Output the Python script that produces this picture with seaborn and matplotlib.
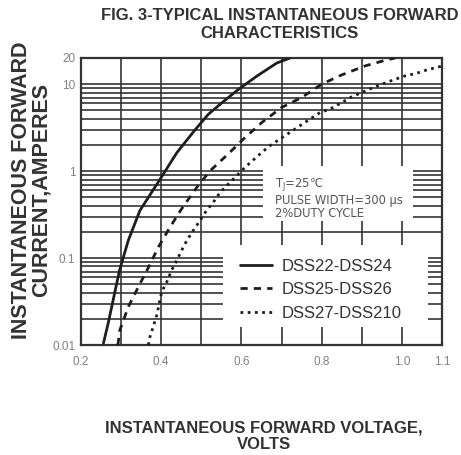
import numpy as np
import matplotlib
matplotlib.use("Agg")
import matplotlib.pyplot as plt
import seaborn as sns
from matplotlib.patches import Rectangle
from matplotlib.ticker import FixedLocator, LogLocator, NullFormatter

# forward voltage (V) vs forward current (A)
v_dss22 = [0.256, 0.268, 0.296, 0.318, 0.347, 0.397, 0.439, 0.484, 0.517, 0.551, 0.590,
           0.638, 0.688, 0.721]
i_dss22 = [0.0105, 0.018, 0.072, 0.16, 0.353, 0.805, 1.63, 2.97, 4.48, 6.1, 8.53,
           12.35, 17.5, 20.0]

v_dss25 = [0.292, 0.297, 0.318, 0.343, 0.368, 0.393, 0.422, 0.451, 0.492, 0.522, 0.567,
           0.605, 0.651, 0.700, 0.750, 0.800, 0.850, 0.908, 0.958, 0.983]
i_dss25 = [0.01, 0.0149, 0.0275, 0.0466, 0.0778, 0.134, 0.227, 0.369, 0.683, 1.01, 1.575,
           2.34, 3.63, 5.39, 7.02, 10.0, 12.78, 16.2, 18.8, 20.0]

v_dss27 = [0.368, 0.372, 0.380, 0.389, 0.401, 0.414, 0.426, 0.439, 0.451, 0.464, 0.480,
           0.497, 0.513, 0.530, 0.547, 0.609, 0.651, 0.671, 0.696, 0.721, 0.746, 0.771,
           0.796, 0.821, 0.850, 0.875, 0.925, 0.950, 0.979, 1.008, 1.037, 1.062, 1.091, 1.100]
i_dss27 = [0.01, 0.01245, 0.0162, 0.0221, 0.0408, 0.0532, 0.0724, 0.0943, 0.1227, 0.160, 0.208,
           0.271, 0.353, 0.439, 0.572, 1.106, 1.644, 1.96, 2.34, 2.79, 3.33, 3.97,
           4.72, 5.17, 6.15, 7.15, 9.0, 10.0, 11.2, 12.45, 13.36, 14.58, 15.78, 16.1]

labels = ["DSS22-DSS24", "DSS25-DSS26", "DSS27-DSS210"]
note = "T$_\\mathregular{J}$=25℃\nPULSE WIDTH=300 μs\n2%DUTY CYCLE"

x_ticks = [0.2, 0.4, 0.6, 0.8, 1.0, 1.1]
x_tick_labels = ["0.2", "0.4", "0.6", "0.8", "1.0", "1.1"]
x_minor = [0.3, 0.5, 0.7, 0.9]
y_ticks = [0.01, 0.1, 1, 10, 20]
y_tick_labels = ["0.01", "0.1", "1", "10", "20"]

sns.set_style("white")
plt.rcParams['font.family'] = ['Liberation Sans', 'DejaVu Sans']

fig = plt.figure(figsize=(4.61, 4.55), dpi=100)
ax = fig.add_axes([81 / 461, 1 - 345 / 455, 361 / 461, 287 / 455])

ink = '#1e1e1e'
styles = ['-', (0, (2.6, 2.2)), (0, (1.0, 1.6))]
for v, i, ls, lab in zip([v_dss22, v_dss25, v_dss27], [i_dss22, i_dss25, i_dss27], styles, labels):
    sns.lineplot(x=v, y=i, ax=ax, color=ink, linewidth=2.0, linestyle=ls,
                 label=lab, legend=False, errorbar=None, sort=False, zorder=4)

ax.set_yscale('log')
ax.set_xlim(0.2, 1.1)
ax.set_ylim(0.01, 20)

ax.set_xticks(x_ticks)
ax.set_xticklabels(x_tick_labels)
ax.set_xticks(x_minor, minor=True)
ax.yaxis.set_major_locator(FixedLocator(y_ticks))
ax.set_yticklabels(y_tick_labels)
ax.yaxis.set_minor_locator(LogLocator(base=10, subs=np.arange(2, 10), numticks=20))
ax.yaxis.set_minor_formatter(NullFormatter())
ax.set_axisbelow(True)
ax.grid(True, which='both', color='#333333', linewidth=1.2)
ax.tick_params(which='both', length=0, labelsize=8.5, labelcolor='#808080')
ax.tick_params(axis='x', pad=8)
ax.tick_params(axis='y', pad=4)
ax.set_xlabel("")
ax.set_ylabel("")
for s in ax.spines.values():
    s.set_visible(True)
    s.set_color('#333333')
    s.set_linewidth(1.6)

# blank areas of the grid behind the note and the legend
ax.add_patch(Rectangle((0.654, 0.265), 0.374, 1.14 - 0.265, facecolor='white',
                       edgecolor='none', zorder=2))
ax.add_patch(Rectangle((0.554, 0.016), 0.511, 0.14 - 0.016, facecolor='white',
                       edgecolor='none', zorder=2))

ax.text(0.537, 0.512, note, transform=ax.transAxes, family=['DejaVu Sans'], fontsize=8.3,
        color='#555555', va='center', ha='left', linespacing=1.05, zorder=5)

leg = ax.legend(handles=ax.lines[:3], labels=labels, loc='upper left',
                bbox_to_anchor=(0.44, 0.30), frameon=False, fontsize=12,
                handlelength=1.9, handletextpad=0.6, labelspacing=0.5,
                borderpad=0, borderaxespad=0)
for t in leg.get_texts():
    t.set_color('#333333')

fig.text(0.607, 1 - 24.5 / 455, "FIG. 3-TYPICAL INSTANTANEOUS FORWARD\nCHARACTERISTICS",
         ha='center', va='center', fontsize=12, fontweight='bold', color='#333333',
         linespacing=1.2)
fig.text(0.573, 1 - 436.5 / 455, "INSTANTANEOUS FORWARD VOLTAGE,\nVOLTS",
         ha='center', va='center', fontsize=12, fontweight='bold', color='#333333',
         linespacing=1.15)
fig.text(31.5 / 461, 1 - 190 / 455, "INSTANTANEOUS FORWARD\nCURRENT,AMPERES", rotation=90,
         ha='center', va='center', multialignment='center', fontsize=15.5,
         fontweight='bold', color='#333333', linespacing=0.95)

fig.savefig("out.png", dpi=100)
